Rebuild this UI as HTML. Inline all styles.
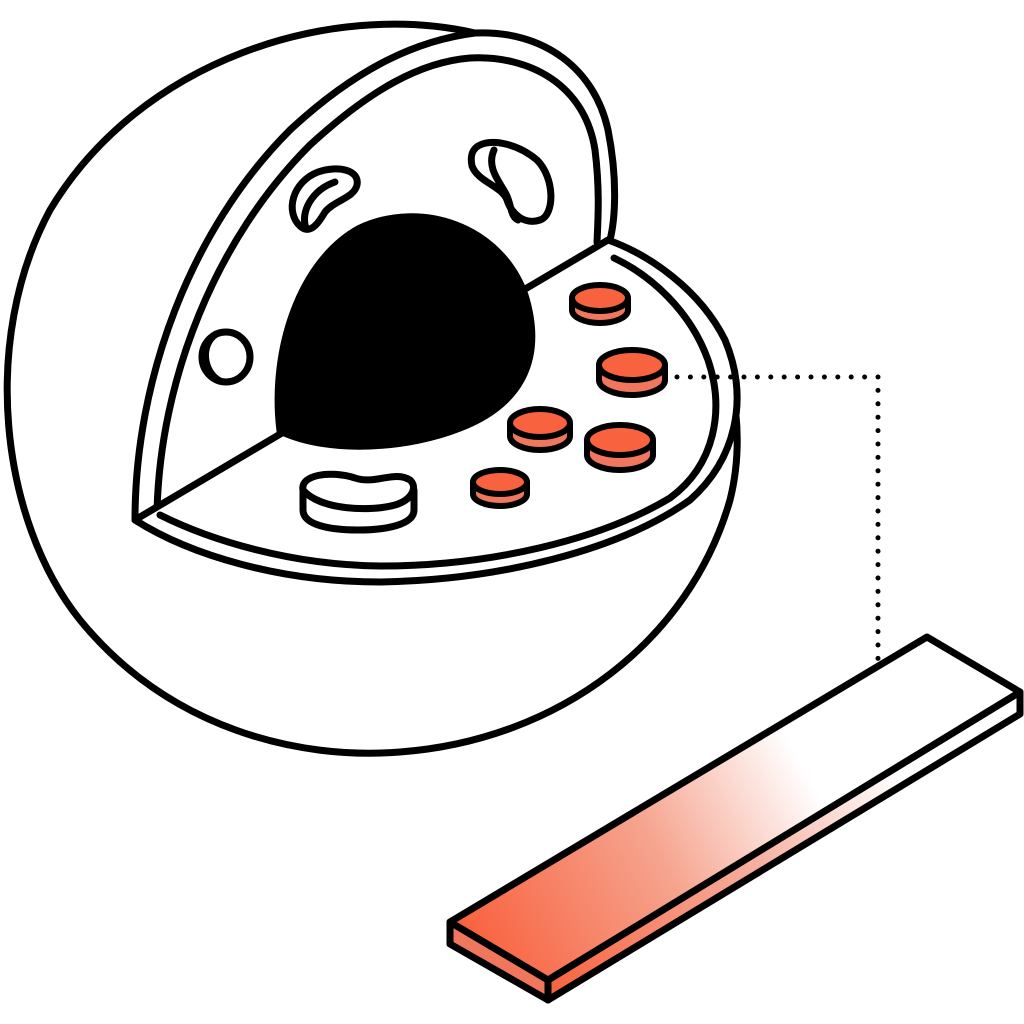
<!DOCTYPE html>
<html><head><meta charset="utf-8"><style>html,body{margin:0;padding:0;background:#fff}svg{display:block}</style></head>
<body>
<svg width="1024" height="1024" viewBox="0 0 1024 1024" xmlns="http://www.w3.org/2000/svg">
<defs>
<linearGradient id="g" x1="470" y1="940" x2="800" y2="760" gradientUnits="userSpaceOnUse">
<stop offset="0" stop-color="#f8623f"/><stop offset="0.55" stop-color="#f6a48f"/><stop offset="1" stop-color="#fff"/>
</linearGradient>
<linearGradient id="g2" x1="548" y1="990" x2="900" y2="780" gradientUnits="userSpaceOnUse">
<stop offset="0" stop-color="#f8623f"/><stop offset="0.6" stop-color="#f6b0a0"/><stop offset="1" stop-color="#fff"/>
</linearGradient>
</defs>
<g fill="none" stroke="#000" stroke-width="7" stroke-linejoin="round" stroke-linecap="round">
<!-- outer sphere -->
<path d="M475,33 C330,0 140,60 50,210 C-20,340 0,520 80,620 C170,730 300,760 400,752 C560,740 690,640 730,500 C745,440 735,380 715,330" fill="#fff"/>
<!-- vertical cut face -->
<path d="M135,520 C135,380 190,230 290,130 C360,65 420,40 475,33 C545,30 595,70 608,130 C618,180 615,220 610,240 Z" fill="#fff"/>
<path d="M157,512 C160,380 215,240 310,145 C370,90 420,62 470,58 C530,55 585,85 595,150 C600,190 598,220 597,242"/>
<!-- horizontal cut face -->
<path d="M135,520 L608,240 C650,255 700,290 725,340 C750,400 735,460 690,500 C620,550 500,580 380,582 C280,582 190,555 135,520 Z" fill="#fff"/>
<path d="M160,515 C210,540 290,565 380,566 C490,566 600,540 670,498 C715,465 725,410 708,360 C690,310 650,275 614,258"/>
<!-- nucleus -->
<path d="M280,431 C270,350 300,260 360,228 C420,200 500,225 525,295 C545,360 520,405 460,428 C410,448 330,455 280,431 Z" fill="#000"/>
<!-- organelles vertical face -->
<path d="M300,226 C285,212 292,182 318,172 C338,165 360,170 357,185 C354,198 335,200 325,212 C318,224 310,235 300,226 Z" fill="#fff"/>
<path d="M306,228 C300,212 312,190 335,182"/>
<path d="M478,146 C492,138 518,144 537,160 C555,178 555,215 540,220 C525,225 512,215 507,200 C502,186 478,182 472,166 C470,156 472,150 478,146 Z" fill="#fff"/>
<path d="M494,150 C486,168 500,182 506,194 C512,206 510,216 518,220"/>
<ellipse cx="226" cy="357" rx="24" ry="25" fill="#fff"/>
<path d="M216,334 C200,345 203,372 220,381"/>
<!-- pill on horizontal face -->
<path d="M303,490 L303,510 C303,525 330,530 358,530 C385,530 414,525 414,510 L414,490" fill="#fff"/>
<path d="M303,490 C300,475 330,470 355,478 C375,485 395,470 410,480 C418,487 412,500 395,505 C370,512 320,510 303,490 Z" fill="#fff"/>
</g>
<!-- orange discs -->
<g stroke="#000" stroke-width="6">
<g transform="translate(600,298)"><path d="M-28,0 L-28,12 A28,13 0 0 0 28,12 L28,0" fill="#f0765d"/><ellipse cx="0" cy="0" rx="28" ry="13" fill="#f8623f"/></g>
<g transform="translate(632,365)"><path d="M-33,0 L-33,15 A33,15 0 0 0 33,15 L33,0" fill="#f0765d"/><ellipse cx="0" cy="0" rx="33" ry="15" fill="#f8623f"/></g>
<g transform="translate(540,423)"><path d="M-30,0 L-30,13 A30,14 0 0 0 30,13 L30,0" fill="#f0765d"/><ellipse cx="0" cy="0" rx="30" ry="14" fill="#f8623f"/></g>
<g transform="translate(620,440)"><path d="M-33,0 L-33,15 A33,15 0 0 0 33,15 L33,0" fill="#f0765d"/><ellipse cx="0" cy="0" rx="33" ry="15" fill="#f8623f"/></g>
<g transform="translate(500,482)"><path d="M-27,0 L-27,12 A27,12 0 0 0 27,12 L27,0" fill="#f0765d"/><ellipse cx="0" cy="0" rx="27" ry="12" fill="#f8623f"/></g>
</g>
<!-- dotted connector -->
<path d="M677,377 L878,377 L878,715" fill="none" stroke="#000" stroke-width="5" stroke-linecap="round" stroke-dasharray="0 13.4"/>
<!-- strip -->
<g stroke="#000" stroke-width="7" stroke-linejoin="round">
<polygon points="450,922 548,980 548,1000 450,944" fill="#f0765d"/>
<polygon points="548,980 1020,692 1020,714 548,1000" fill="url(#g2)"/>
<polygon points="450,922 927,637 1020,692 548,980" fill="url(#g)"/>
</g>
</svg>
</body></html>
